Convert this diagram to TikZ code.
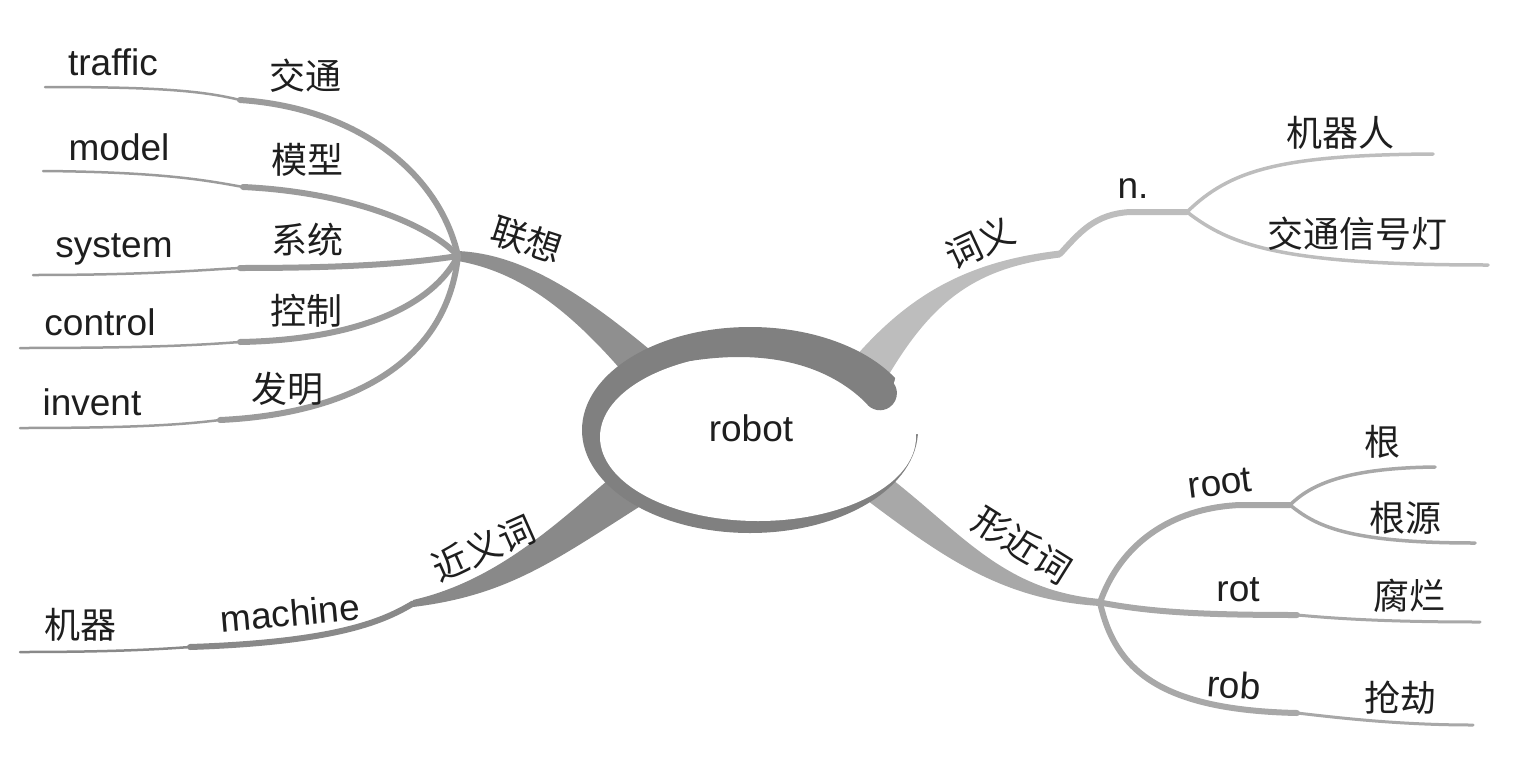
\documentclass[tikz,border=0pt]{standalone}
\usepackage{fontspec}
\setmainfont{Liberation Sans}
\newfontfamily\cjk{Noto Sans CJK SC}
\usepackage{tikz}
\usetikzlibrary{positioning, calc}
\definecolor{ringgray}{RGB}{128,128,128}
\definecolor{assocgray}{RGB}{143,143,143}
\definecolor{leafgray}{RGB}{155,155,155}
\definecolor{meangray}{RGB}{189,189,189}
\definecolor{formgray}{RGB}{168,168,168}
\definecolor{syngray}{RGB}{137,137,137}
\definecolor{inkblack}{RGB}{30,30,30}
\tikzstyle{word}=[%
      text=inkblack, font=\fontsize{37}{44}\selectfont, inner sep=0pt
]
\tikzstyle{hanzi}=[%
      text=inkblack, font=\cjk\fontsize{36}{44}\selectfont, inner sep=0pt
]
\tikzstyle{leaf}=[%
      draw=leafgray, line width=6pt, line cap=round
]
\tikzstyle{leafthin}=[%
      draw=leafgray, line width=2.5pt, line cap=round
]
\tikzstyle{nline}=[%
      draw=meangray, line width=6pt, line cap=round
]
\tikzstyle{nbranch}=[%
      draw=meangray, line width=3.5pt, line cap=round
]
\tikzstyle{rline}=[%
      draw=formgray, line width=6pt, line cap=round
]
\tikzstyle{rbranch}=[%
      draw=formgray, line width=3.5pt, line cap=round
]
\tikzstyle{rthin}=[%
      draw=formgray, line width=3pt, line cap=round
]
\tikzstyle{mline}=[%
      draw=syngray, line width=6pt, line cap=round
]
\tikzstyle{mthin}=[%
      draw=syngray, line width=2.5pt, line cap=round
]
\begin{document}
\begin{tikzpicture}[x=1pt, y=-1pt]
    \useasboundingbox (0,0) rectangle (1538,771);

    % hubs and line ends
    \coordinate (hubL)  at (458,256);
    \coordinate (hubW)  at (1060,254);
    \coordinate (hubN)  at (1187,212);
    \coordinate (hubR)  at (1100,602.5);
    \coordinate (hubRt) at (1290,505);
    \coordinate (hubM)  at (413,603.5);

    \coordinate (trafficK) at (240,100);  \coordinate (trafficE) at (45,87);
    \coordinate (modelK)   at (243,187);  \coordinate (modelE)   at (43,171);
    \coordinate (systemK)  at (240,268);  \coordinate (systemE)  at (33,275);
    \coordinate (controlK) at (240,342);  \coordinate (controlE) at (20,348);
    \coordinate (inventK)  at (220,420);  \coordinate (inventE)  at (20,428);
    \coordinate (robotE)   at (1433,154); \coordinate (signalE)  at (1488,265);
    \coordinate (genE)     at (1435,467); \coordinate (genyuanE) at (1475,543);
    \coordinate (rotK)     at (1297,615); \coordinate (rotE)     at (1480,622);
    \coordinate (robK)     at (1297,713); \coordinate (robE)     at (1473,725);
    \coordinate (machineK) at (190,647);  \coordinate (machineE) at (20,652);

    % main branches
    \fill[assocgray] ([yshift=5pt]hubL) .. controls (520,254) and (580,290) .. (662,360)
        -- (628,378) .. controls (570,310) and (520,272) .. ([yshift=-5pt]hubL) -- cycle;
    \fill[meangray] (840,375) .. controls (900,300) and (960,262) .. ([yshift=3.5pt]hubW)
        -- ([yshift=-3.5pt]hubW) .. controls (975,268) and (930,300) .. (880,390) -- cycle;
    \fill[formgray] (880,470) .. controls (960,530) and (1000,590) .. ([yshift=3.5pt]hubR)
        -- ([yshift=-3.5pt]hubR) .. controls (1000,600) and (940,555) .. (860,495) -- cycle;
    \fill[syngray] (620,470) .. controls (560,520) and (500,580) .. ([yshift=3.5pt]hubM)
        -- ([yshift=-3.5pt]hubM) .. controls (510,595) and (555,560) .. (650,500) -- cycle;

    % centre ring
    \fill[ringgray] (750,430) ellipse [x radius=168pt, y radius=103pt];
    \fill[white] (758,437) ellipse [x radius=158pt, y radius=84pt];
    \fill[white] (897,372) -- (926,372) -- (926,434) -- (888,434) -- (888,405) -- cycle;
    \fill[ringgray] (690,361) .. controls (780,347) and (835,372) .. (866,403)
        arc[start angle=215, end angle=405, radius=17pt] -- (860,358) -- (690,345) -- cycle;
    \node[word] (robot) at (751,428) {robot};

    % associations
    \draw[leaf] (hubL) .. controls (440,175) and (360,108) .. (trafficK);
    \draw[leafthin] (trafficK) .. controls (200,90) and (150,87) .. (trafficE);
    \draw[leaf] (hubL) .. controls (430,225) and (350,192) .. (modelK);
    \draw[leafthin] (modelK) .. controls (205,180) and (160,172) .. (modelE);
    \draw[leaf] (hubL) .. controls (400,265) and (330,268) .. (systemK);
    \draw[leafthin] (systemK) .. controls (200,270) and (150,275) .. (systemE);
    \draw[leaf] (hubL) .. controls (430,310) and (350,340) .. (controlK);
    \draw[leafthin] (controlK) .. controls (200,345) and (150,348) .. (controlE);
    \draw[leaf] (hubL) .. controls (445,375) and (330,415) .. (inventK);
    \draw[leafthin] (inventK) .. controls (180,425) and (130,428) .. (inventE);

    \node[hanzi, rotate=-18] (assoc)     at (527,240) {联想};
    \node[word]              (trafficEn) at (113,62)  {traffic};
    \node[hanzi]             (trafficZh) at (305,76)  {交通};
    \node[word]              (modelEn)   at (119,147) {model};
    \node[hanzi]             (modelZh)   at (307,160) {模型};
    \node[word]              (systemEn)  at (114,249) {system};
    \node[hanzi]             (systemZh)  at (307,240) {系统};
    \node[word]              (controlEn) at (100,322) {control};
    \node[hanzi]             (controlZh) at (306,311) {控制};
    \node[word]              (inventEn)  at (92,402)  {invent};
    \node[hanzi]             (inventZh)  at (287,389) {发明};

    % meaning
    \draw[nline] (hubW) .. controls (1080,232) and (1095,214) .. (1130,212) -- (hubN);
    \draw[nbranch] (hubN) .. controls (1230,170) and (1280,155) .. (robotE);
    \draw[nbranch] (hubN) .. controls (1230,245) and (1280,265) .. (signalE);

    \node[hanzi, rotate=25] (meaning) at (980,243)  {词义};
    \node[word]             (noun)    at (1133,189) {n.};
    \node[hanzi]            (robotZh) at (1340,133) {机器人};
    \node[hanzi]            (signal)  at (1357,234) {交通信号灯};

    % similar forms
    \draw[rline] (hubR) .. controls (1120,545) and (1170,508) .. (1240,505) -- (hubRt);
    \draw[rbranch] (hubRt) .. controls (1310,485) and (1345,468) .. (genE);
    \draw[rbranch] (hubRt) .. controls (1315,525) and (1345,543) .. (genyuanE);
    \draw[rline] (hubR) .. controls (1150,612) and (1200,615) .. (rotK);
    \draw[rthin] (rotK) .. controls (1330,618) and (1380,622) .. (rotE);
    \draw[rline] (hubR) .. controls (1115,670) and (1160,710) .. (robK);
    \draw[rthin] (robK) .. controls (1340,718) and (1400,725) .. (robE);

    \node[hanzi, rotate=-32] (form)    at (1022,545) {形近词};
    \node[word, rotate=7]    (root)    at (1220,483) {root};
    \node[hanzi]             (gen)     at (1382,442) {根};
    \node[hanzi]             (genyuan) at (1405,518) {根源};
    \node[word]              (rot)     at (1238,590) {rot};
    \node[hanzi]             (rotZh)   at (1409,596) {腐烂};
    \node[word, rotate=-4]   (rob)     at (1234,685) {rob};
    \node[hanzi]             (robZh)   at (1400,698) {抢劫};

    % synonym
    \draw[mline] (hubM) .. controls (385,620) and (340,642) .. (machineK);
    \draw[mthin] (machineK) .. controls (150,650) and (100,652) .. (machineE);

    \node[hanzi, rotate=24] (synonym)   at (483,548) {近义词};
    \node[word, rotate=5]   (machineEn) at (290,613) {machine};
    \node[hanzi]            (machineZh) at (80,625)  {机器};
\end{tikzpicture}
\end{document}
